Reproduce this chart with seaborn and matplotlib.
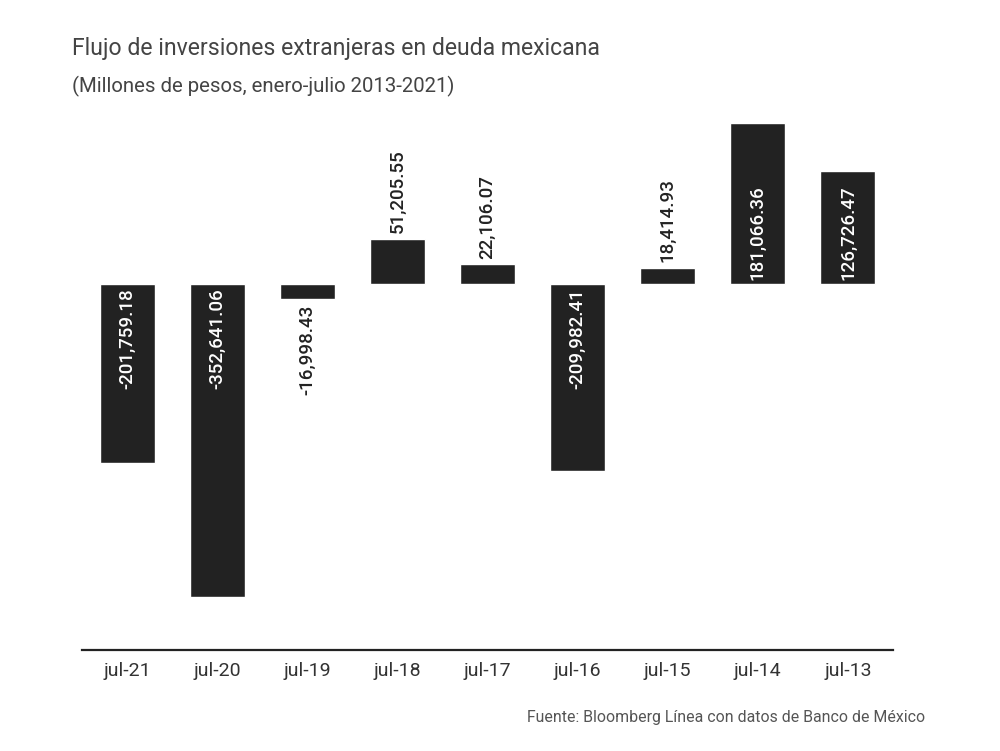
import matplotlib
matplotlib.use("Agg")
import matplotlib.pyplot as plt
import seaborn as sns
import pandas as pd

# data (millones de pesos, enero-julio)
periodos = ["jul-21", "jul-20", "jul-19", "jul-18", "jul-17",
            "jul-16", "jul-15", "jul-14", "jul-13"]
flujos = [-201759.18, -352641.06, -16998.43, 51205.55, 22106.07,
          -209982.41, 18414.93, 181066.36, 126726.47]

df = pd.DataFrame({"periodo": periodos, "flujo": flujos})

sns.set_theme(style="white")
plt.rcParams["font.family"] = ["Roboto", "DejaVu Sans"]

fig = plt.figure(figsize=(10, 7.51), dpi=100)
ax = fig.add_axes([0.082, 0.1345, 0.811, 0.712])

sns.barplot(data=df, x="periodo", y="flujo", color="#222222",
            saturation=1, width=0.61, ax=ax)

ax.set_xlim(-0.5, 8.5)
ax.set_ylim(-412000, 190000)

# value labels: big bars inside (white), small bars outside
umbral = 100000
fs = 13.5
for patch, v in zip(ax.patches, flujos):
    xc = patch.get_x() + patch.get_width() / 2
    txt = f"{v:,.2f}"
    if abs(v) > umbral:
        y, col = (5000, "white") if v > 0 else (-5000, "white")
    else:
        y, col = (v + 6000, "#222222") if v > 0 else (v - 6000, "#222222")
    ax.text(xc, y, txt, rotation=90, ha="center",
            va="bottom" if v > 0 else "top",
            color=col, fontsize=fs, fontweight="medium")

for side in ["top", "right", "left"]:
    ax.spines[side].set_visible(False)
ax.spines["bottom"].set_color("#222222")
ax.spines["bottom"].set_linewidth(1.6)
ax.set_yticks([])
ax.set_xlabel("")
ax.set_ylabel("")
ax.tick_params(axis="x", length=0, pad=9, labelsize=14, labelcolor="#333333")

fig.text(0.072, 0.935, "Flujo de inversiones extranjeras en deuda mexicana",
         fontsize=16.6, color="#444444", va="center")
fig.text(0.072, 0.885, "(Millones de pesos, enero-julio 2013-2021)",
         fontsize=14.7, color="#444444", va="center")
fig.text(0.925, 0.044, "Fuente: Bloomberg Línea con datos de Banco de México",
         fontsize=11.4, color="#555555", ha="right", va="center")

fig.savefig("out.png", dpi=100)
